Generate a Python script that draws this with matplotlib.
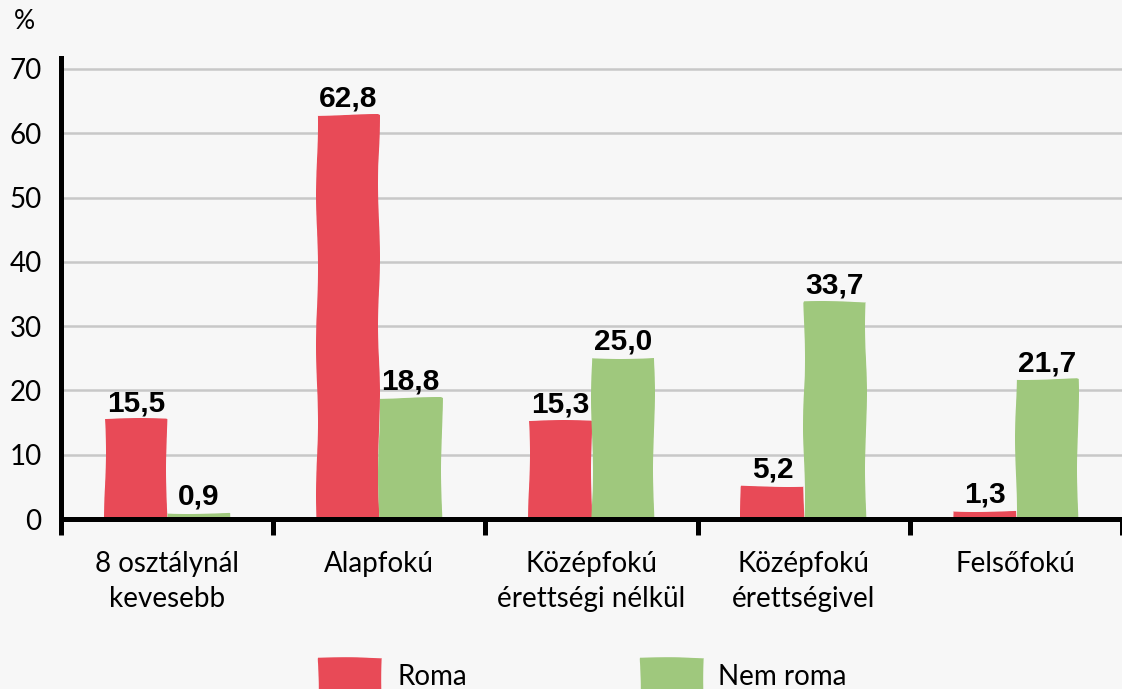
import matplotlib
matplotlib.use("Agg")
import matplotlib.pyplot as plt
from matplotlib.patches import Rectangle
import numpy as np

categories = ["8 osztálynál\nkevesebb", "Alapfokú", "Középfokú\nérettségi nélkül",
              "Középfokú\nérettségivel", "Felsőfokú"]
roma = [15.5, 62.8, 15.3, 5.2, 1.3]
nem_roma = [0.9, 18.8, 25.0, 33.7, 21.7]
series_names = ["Roma", "Nem roma"]
y_ticks = [0, 10, 20, 30, 40, 50, 60, 70]

RED = "#E84A57"
GREEN = "#9FC87D"
BG = "#F7F7F7"
W, H = 1122, 689

plt.rcParams["font.family"] = ["Lato", "DejaVu Sans"]

fig = plt.figure(figsize=(W / 100, H / 100), dpi=100, facecolor=BG)
ax = fig.add_axes([61 / W, (H - 519) / H, 1 - 61 / W, (519 - 58) / H], facecolor=BG)

x = np.arange(len(categories))
bw = 0.295
bars_r = ax.bar(x - bw / 2, roma, bw, color=RED, zorder=2, linewidth=0)
bars_g = ax.bar(x + bw / 2, nem_roma, bw, color=GREEN, zorder=2, linewidth=0)
for b in list(bars_r) + list(bars_g):
    b.set_sketch_params(scale=1.0, length=160, randomness=2)

def fmt(v):
    return f"{v:.1f}".replace(".", ",")

for bars, vals in ((bars_r, roma), (bars_g, nem_roma)):
    for b, v in zip(bars, vals):
        ax.annotate(fmt(v), (b.get_x() + b.get_width() / 2, v),
                    xytext=(0, 6), textcoords="offset points",
                    ha="center", va="baseline", fontsize=21.5,
                    fontweight="bold", family="Liberation Sans", color="black")

ax.set_xlim(-0.5, -0.5 + (W - 61) / 213.7)
ax.set_ylim(0, 71.7)

ax.set_yticks(y_ticks)
ax.set_yticklabels([str(t) for t in y_ticks])
ax.tick_params(axis="y", length=0, pad=14, labelsize=20, colors="black")
ax.yaxis.grid(True, color="#C8C8C8", linewidth=1.8, zorder=0)
ax.set_axisbelow(True)

ax.set_xticks(x)
ax.set_xticklabels(categories, linespacing=1.45)
ax.tick_params(axis="x", which="major", length=0, pad=23, labelsize=20)
ax.set_xticks(np.arange(-0.5, len(categories), 1.0), minor=True)
ax.tick_params(axis="x", which="minor", length=11.5, width=3.6, color="black")

for s in ("top", "right"):
    ax.spines[s].set_visible(False)
for s in ("left", "bottom"):
    ax.spines[s].set_linewidth(3.6)
    ax.spines[s].set_color("black")
    ax.spines[s].set_zorder(3)

fig.text(14 / W, 1 - 9 / H, "%", fontsize=19, va="top", ha="left", color="black")

# Legend
for (x0, tx, name, col) in ((318, 397, series_names[0], RED),
                            (640, 718, series_names[1], GREEN)):
    r = Rectangle((x0 / W, -10 / H), 64 / W, (689 - 658 + 10) / H,
                  transform=fig.transFigure, facecolor=col, linewidth=0)
    r.set_sketch_params(scale=0.8, length=120, randomness=2)
    fig.patches.append(r)
    fig.text(tx / W, 4 / H, name, fontsize=20, ha="left", va="baseline")

fig.savefig("out.png", dpi=100, facecolor=BG)
